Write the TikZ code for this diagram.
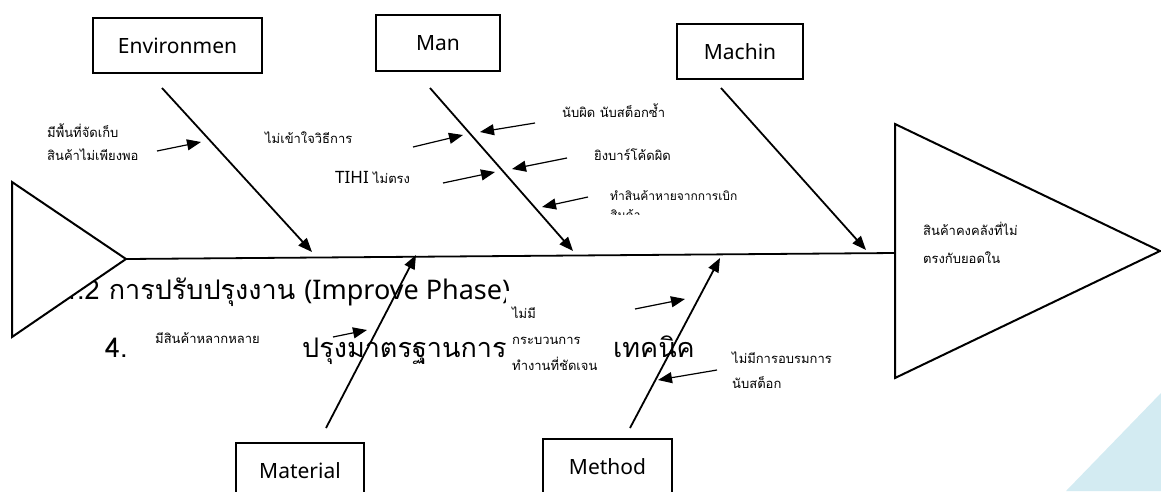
\documentclass[tikz,border=0pt]{standalone}
\usepackage{fontspec}
\setmainfont{Noto Sans}
\newfontfamily\thaifont[Script=Thai]{Loma}
\usetikzlibrary{arrows.meta,positioning}
\definecolor{cornerblue}{HTML}{D3EBF2}

\begin{document}
\begin{tikzpicture}[x=1pt,y=-1pt,
            catbox/.style={draw, line width=1.3pt, inner sep=0pt, font=\fontsize{21}{24}\selectfont},
            bone/.style={line width=1.8pt, -{Triangle[length=14pt,width=11pt]}},
            cause/.style={line width=1.2pt, -{Triangle[length=14pt,width=11pt]}},
            lbl/.style={inner sep=0pt, anchor=base west, align=left, font=\thaifont\fontsize{13}{23}\selectfont},
            bgline/.style={inner sep=0pt, anchor=base west, font=\thaifont\fontsize{27}{32}\selectfont}]
            \useasboundingbox (0,0) rectangle (1161,491);
            \fill[cornerblue] (1066,491) -- (1161,393) -- (1161,491) -- cycle;
            % text of the page behind the chart
            \node[bgline] (improve) at (62,299) {4.2 การปรับปรุงงาน {\rmfamily (Improve Phase)}};
            \node[bgline] (stdno)   at (105,357) {4.};
            \node[bgline] (stdtxt)  at (302,357) {ปรุงมาตรฐานการ};
            \node[bgline] (tech)    at (613,357) {เทคนิค};
            % head and tail
            \filldraw[fill=white, line width=2pt] (12,182) -- (126,259) -- (12,337) -- cycle;
            \draw[line width=2pt] (895,124) -- (1160,251) -- (895,378) -- cycle;
            \coordinate (tail) at (126,259);
            \coordinate (head) at (895,253);
            \draw[line width=1.8pt] (tail) -- (head);
            \node[lbl, font=\thaifont\fontsize{13}{28}\selectfont] (effect) at (923,263) {สินค้าคงคลังที่ไม่\\ตรงกับยอดใน};
            % categories
            \node[catbox, minimum width=169pt, minimum height=55pt] (env) at (177.5,45.5) {Environmen};
            \node[catbox, minimum width=124pt, minimum height=56pt] (man) at (438,43) {Man};
            \node[catbox, minimum width=126pt, minimum height=55pt] (mac) at (740,51.5) {Machin};
            \node[catbox, minimum width=128pt, minimum height=56pt] (mat) at (300,471) {Material};
            \node[catbox, minimum width=129pt, minimum height=56pt] (met) at (607.5,467) {Method};
            % bones
            \coordinate (envs) at (162,88);  \coordinate (envt) at (312,252);
            \coordinate (mans) at (430,88);  \coordinate (mant) at (573,251);
            \coordinate (macs) at (721,88);  \coordinate (mact) at (866,250);
            \coordinate (mats) at (326,428); \coordinate (matt) at (416,255);
            \coordinate (mets) at (630,428); \coordinate (mett) at (720,258);
            \draw[bone] (envs) -- (envt);
            \draw[bone] (mans) -- (mant);
            \draw[bone] (macs) -- (mact);
            \draw[bone] (mats) -- (matt);
            \draw[bone] (mets) -- (mett);
            % causes
            \node[lbl] (space) at (47,160) {มีพื้นที่จัดเก็บ\\สินค้าไม่เพียงพอ};
            \node[lbl] (howto) at (265,143) {ไม่เข้าใจวิธีการ};
            \node[lbl] (tihi) at (335,183) {{\rmfamily\fontsize{17}{20}\selectfont TIHI} ไม่ตรง};
            \node[lbl] (twice) at (562,117) {นับผิด นับสต็อกซ้ำ};
            \node[lbl] (scan) at (594,160) {ยิงบาร์โค้ดผิด};
            \begin{scope}
              \clip (600,185) rectangle (760,214);
              \node[lbl, font=\thaifont\fontsize{12}{19}\selectfont] (loss) at (610,219) {ทำสินค้าหายจากการเบิก\\สินค้า};
            \end{scope}
            \node[lbl] (items) at (155,343) {มีสินค้าหลากหลาย};
            \fill[white] (506,291) rectangle (606,380);
            \node[lbl, font=\thaifont\fontsize{13}{26}\selectfont] (process) at (512,370) {ไม่มี\\กระบวนการ\\ทำงานที่ชัดเจน};
            \node[lbl, font=\thaifont\fontsize{13}{25}\selectfont] (train) at (732,388) {ไม่มีการอบรมการ\\นับสต็อก};
            \coordinate (c1s) at (157,151); \coordinate (c1t) at (201,142);
            \coordinate (c2s) at (413,147); \coordinate (c2t) at (463,135);
            \coordinate (c3s) at (443,183); \coordinate (c3t) at (495,172);
            \coordinate (c4s) at (535,123); \coordinate (c4t) at (480,132);
            \coordinate (c5s) at (567,158); \coordinate (c5t) at (512,169);
            \coordinate (c6s) at (588,197); \coordinate (c6t) at (542,207);
            \coordinate (c7s) at (333,337); \coordinate (c7t) at (367,330);
            \coordinate (c8s) at (635,309); \coordinate (c8t) at (685,299);
            \coordinate (c9s) at (717,370); \coordinate (c9t) at (658,380);
            \foreach \s/\t in {c1s/c1t,c2s/c2t,c3s/c3t,c4s/c4t,c5s/c5t,c6s/c6t,c7s/c7t,c8s/c8t,c9s/c9t}
              \draw[cause] (\s) -- (\t);
        \end{tikzpicture}
\end{document}
